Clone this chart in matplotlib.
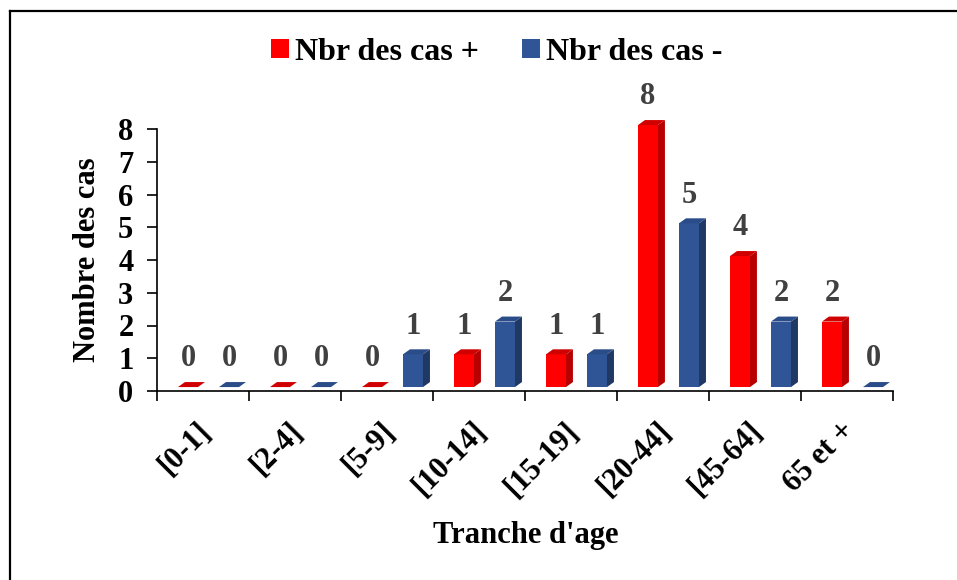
import matplotlib
matplotlib.use("Agg")
import matplotlib.pyplot as plt
import matplotlib.transforms as mtransforms
from matplotlib.patches import Polygon, Patch
from matplotlib.lines import Line2D

# données
categories = ["[0-1]", "[2-4]", "[5-9]", "[10-14]", "[15-19]", "[20-44]", "[45-64]", "65 et +"]
cas_pos = [0, 0, 0, 1, 1, 8, 4, 2]
cas_neg = [0, 0, 1, 2, 1, 5, 2, 0]
series_labels = ["Nbr des cas +", "Nbr des cas -"]

plt.rcParams["font.family"] = ["Liberation Serif", "DejaVu Serif"]
plt.rcParams["font.weight"] = "bold"

RED = ("#FF0000", "#B80000", "#D00000")
BLUE = ("#2F5597", "#1F3864", "#2A4C88")

fig = plt.figure(figsize=(9.57, 5.80), dpi=100)
ax = fig.add_axes([157 / 957, 1 - 391 / 580, 736 / 957, 262 / 580])

W = 0.217   # largeur face avant
DX = 0.076  # profondeur en x
DY = 0.153  # profondeur en y
BASE = 0.12


def bar3d(ax, x0, h, colors):
    front, side, top = colors
    b = BASE
    t = b + h
    if h > 0:
        ax.add_patch(Polygon([(x0, b), (x0 + W, b), (x0 + W, t), (x0, t)],
                             closed=True, fc=front, ec="none", clip_on=False, zorder=3))
        ax.add_patch(Polygon([(x0 + W, b), (x0 + W + DX, b + DY), (x0 + W + DX, t + DY), (x0 + W, t)],
                             closed=True, fc=side, ec="none", clip_on=False, zorder=3))
    ax.add_patch(Polygon([(x0, t), (x0 + W, t), (x0 + W + DX, t + DY), (x0 + DX, t + DY)],
                         closed=True, fc=top, ec="none", clip_on=False, zorder=3))


for i in range(len(categories)):
    xr = i - 0.5 + 0.228
    xb = i - 0.5 + 0.674
    bar3d(ax, xr, cas_pos[i], RED)
    bar3d(ax, xb, cas_neg[i], BLUE)
    ax.text(xr + W / 2, cas_pos[i] + 0.98, str(cas_pos[i]), ha="center", va="center",
            fontsize=22, fontweight="bold", color="#404040")
    ax.text(xb + W / 2, cas_neg[i] + 0.98, str(cas_neg[i]), ha="center", va="center",
            fontsize=22, fontweight="bold", color="#404040")

ax.set_xlim(-0.5, len(categories) - 0.5)
ax.set_ylim(0, 8)
ax.set_yticks(range(0, 9))
ax.tick_params(axis="y", labelsize=22, length=7, width=1.2, pad=10)

ax.set_xticks([i - 0.5 for i in range(len(categories) + 1)])
ax.set_xticklabels([])
ax.set_xticks(range(len(categories)), minor=True)
ax.set_xticklabels(categories, minor=True, rotation=45, ha="right",
                   rotation_mode="anchor", fontsize=22, fontweight="bold")
ax.tick_params(axis="x", which="major", length=7, width=1.2)
ax.tick_params(axis="x", which="minor", length=0, pad=18)
shift = mtransforms.ScaledTranslation(-7 / 100, 0, fig.dpi_scale_trans)
for lab in ax.get_xticklabels(minor=True):
    lab.set_transform(lab.get_transform() + shift)

for s in ["top", "right"]:
    ax.spines[s].set_visible(False)
for s in ["left", "bottom"]:
    ax.spines[s].set_linewidth(1.2)

ax.set_ylabel("Nombre des cas", fontsize=22, fontweight="bold")
ax.yaxis.set_label_coords(-0.075, 0.5)
ax.set_xlabel("Tranche d'age", fontsize=22, fontweight="bold")
ax.xaxis.set_label_coords(0.501, -0.497)

handles = [Patch(fc=RED[0], ec="none"), Patch(fc=BLUE[0], ec="none")]
fig.legend(handles, series_labels, loc="center", bbox_to_anchor=(0.519, 0.91), ncol=2,
           frameon=False, handlelength=0.55, handleheight=0.55,
           handletextpad=0.2, columnspacing=1.35, prop={"weight": "bold", "size": 23})

# cadre
fig.add_artist(Line2D([9.5 / 957, 9.5 / 957], [0, 1 - 10.5 / 580], color="black", lw=1.6))
fig.add_artist(Line2D([9.5 / 957, 1], [1 - 10.5 / 580, 1 - 10.5 / 580], color="black", lw=1.6))

fig.savefig("out.png", dpi=100)
